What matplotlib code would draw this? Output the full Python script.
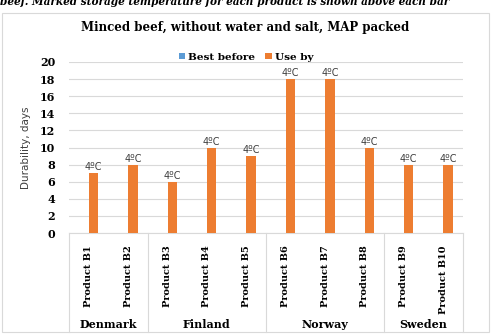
import numpy as np
import matplotlib.pyplot as plt
import matplotlib.transforms as mtransforms
from matplotlib.patches import Rectangle

products = ['Product B1', 'Product B2', 'Product B3', 'Product B4', 'Product B5',
            'Product B6', 'Product B7', 'Product B8', 'Product B9', 'Product B10']
countries = ['Denmark', 'Finland', 'Norway', 'Sweden']
country_sizes = [2, 3, 3, 2]
best_before = [0, 0, 0, 0, 0, 0, 0, 0, 0, 0]
use_by = [7, 8, 6, 10, 9, 18, 18, 10, 8, 8]
temps = ['4\u00baC'] * 10

serif = 'DejaVu Serif'
sans = 'DejaVu Sans'
grid_col = '#D9D9D9'

fig = plt.figure(figsize=(4.91, 3.34), dpi=100)

# cropped caption line at the very top
fig.text(0.0, 1 - 5 / 334, 'beef. Marked storage temperature for each product is shown above each bar',
         fontsize=7.6, fontweight='bold', fontstyle='italic', family=serif, ha='left', va='baseline')

# chart border
fig.patches.append(Rectangle((2 / 491, 2 / 334), 487 / 491, 319 / 334, transform=fig.transFigure,
                             fill=False, edgecolor=grid_col, lw=0.8))

ax = fig.add_axes([69 / 491, 101 / 334, 394 / 491, 171 / 334])
x = np.arange(len(products))
w = 0.24
ax.bar(x - w / 2, best_before, w, color='#5B9BD5', label='Best before', zorder=3)
bars = ax.bar(x + w / 2, use_by, w, color='#ED7D31', label='Use by', zorder=3)

for b, t in zip(bars, temps):
    ax.text(b.get_x() + b.get_width() / 2, b.get_height() + 0.1, t, ha='center', va='bottom',
            fontsize=7, color='#404040', family=sans)

ax.set_xlim(-0.5, len(products) - 0.5)
ax.set_ylim(0, 20)
ax.set_yticks(range(0, 21, 2))
ax.yaxis.grid(True, color=grid_col, lw=0.8, zorder=0)
for s in ['top', 'right', 'left']:
    ax.spines[s].set_visible(False)
ax.spines['bottom'].set_color(grid_col)
ax.tick_params(axis='both', length=0)
ax.tick_params(axis='y', pad=10)
for lab in ax.get_yticklabels():
    lab.set_fontweight('bold')
    lab.set_family(serif)
    lab.set_fontsize(8)

ax.set_xticks(x)
ax.set_xticklabels(products, rotation=90, va='top', ha='center', fontsize=7,
                   fontweight='bold', family=serif)
ax.tick_params(axis='x', pad=9)

ax.set_ylabel('Durability, days', fontsize=7.5, family=sans, color='#404040', labelpad=6)

# group separators and country labels
trans = mtransforms.blended_transform_factory(ax.transData, ax.transAxes)
bounds = np.concatenate([[0], np.cumsum(country_sizes)]) - 0.5
for b in bounds:
    ax.plot([b, b], [0, -99 / 171], transform=trans, color=grid_col, lw=0.8, clip_on=False)
for c, lo, hi in zip(countries, bounds[:-1], bounds[1:]):
    ax.text((lo + hi) / 2, -92 / 171, c, transform=trans, ha='center', va='center',
            fontsize=8, fontweight='bold', family=serif)

fig.text(0.5, 1 - 27 / 334, 'Minced beef, without water and salt, MAP packed', ha='center', va='center',
         fontsize=8.5, fontweight='bold', family=serif)
fig.legend(*ax.get_legend_handles_labels(), loc='center', bbox_to_anchor=(246 / 491, 1 - 57 / 334),
           ncol=2, frameon=False, prop={'family': serif, 'weight': 'bold', 'size': 7.5},
           handlelength=0.6, handleheight=0.6, handletextpad=0.3, columnspacing=1.0)

fig.savefig('out.png', dpi=100)
